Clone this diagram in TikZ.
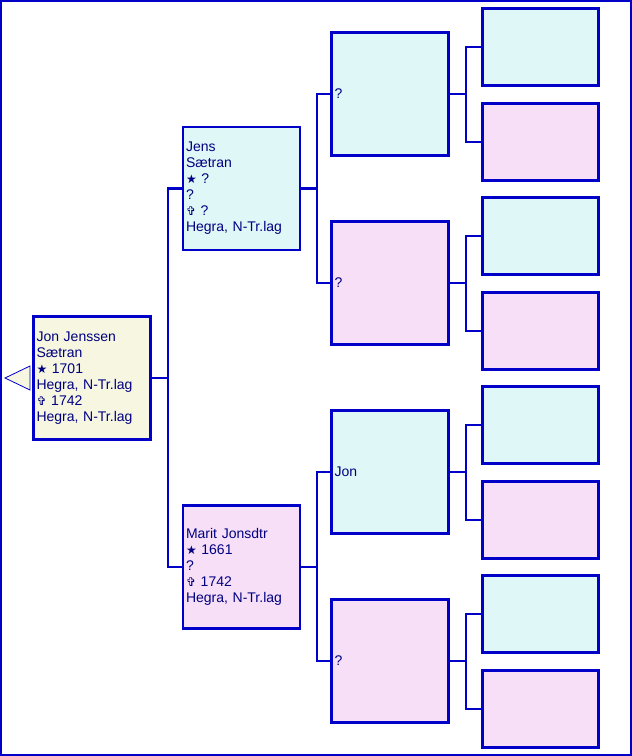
\documentclass[tikz,border=0pt]{standalone}
\usepackage{fontspec}
\setmainfont{Liberation Sans}
\newfontfamily\symfont{DejaVu Sans}
\definecolor{frameblue}{RGB}{0,0,200}
\definecolor{txtblue}{RGB}{0,0,128}
\definecolor{cyanfill}{RGB}{224,247,247}
\definecolor{pinkfill}{RGB}{247,223,247}
\definecolor{yellowfill}{RGB}{246,246,225}
\newcommand{\bstar}{{\symfont\fontsize{12}{16}\selectfont ★}}
\newcommand{\bcross}{{\symfont\fontsize{12}{16}\selectfont ✞}}
\begin{document}
\begin{tikzpicture}[x=1pt,y=-1pt,
  box/.style={draw=frameblue, line width=2.2pt, rectangle, inner xsep=2.5pt, inner ysep=0pt,
    text width=111pt, align=left, text=txtblue, font=\fontsize{14}{16}\selectfont,
    minimum width=117pt, minimum height=123pt},
  smallbox/.style={draw=frameblue, line width=2.2pt, rectangle, minimum width=116pt, minimum height=77pt},
  conn/.style={draw=frameblue, line width=2.2pt}]
\useasboundingbox (0,0) rectangle (632,756);
\draw[frameblue, line width=2.2pt] (1,1) rectangle (631,755);

% root
\node[box, fill=yellowfill] (root) at (92,378) {Jon Jenssen\\Sætran\\\bstar{} 1701\\Hegra, N-Tr.lag\\\bcross{} 1742\\Hegra, N-Tr.lag};
\draw[frameblue, line width=0.8pt, fill=yellowfill] (30,366) -- (5,378) -- (30,390) -- cycle;

% generation 2
\node[box, fill=cyanfill] (f) at (241.5,188.5) {Jens\\Sætran\\\bstar{} ?\\?\\\bcross{} ?\\Hegra, N-Tr.lag};
\node[box, fill=pinkfill] (m) at (241.5,567) {Marit Jonsdtr\\\bstar{} 1661\\?\\\bcross{} 1742\\Hegra, N-Tr.lag};

% generation 3
\node[box, fill=cyanfill] (ff) at (390,94) {?};
\node[box, fill=pinkfill] (fm) at (390,283) {?};
\node[box, fill=cyanfill] (mf) at (390,472) {Jon};
\node[box, fill=pinkfill] (mm) at (390,661) {?};

% generation 4
\node[smallbox, fill=cyanfill] (fff) at (540.5,47) {};
\node[smallbox, fill=pinkfill] (ffm) at (540.5,142) {};
\node[smallbox, fill=cyanfill] (fmf) at (540.5,236) {};
\node[smallbox, fill=pinkfill] (fmm) at (540.5,331) {};
\node[smallbox, fill=cyanfill] (mff) at (540.5,425) {};
\node[smallbox, fill=pinkfill] (mfm) at (540.5,520) {};
\node[smallbox, fill=cyanfill] (mmf) at (540.5,614) {};
\node[smallbox, fill=pinkfill] (mmm) at (540.5,709) {};

% connectors
\draw[conn] (root.east) -- ++(16,0) coordinate (j0);
\draw[conn] (j0) |- (f.west);
\draw[conn] (j0) |- (m.west);
\foreach \p/\a/\b in {f/ff/fm, m/mf/mm, ff/fff/ffm, fm/fmf/fmm, mf/mff/mfm, mm/mmf/mmm}{
  \draw[conn] (\p.east) -- ++(16,0) coordinate (j\p);
  \draw[conn] (j\p) |- (\a.west);
  \draw[conn] (j\p) |- (\b.west);
}
\end{tikzpicture}
\end{document}
